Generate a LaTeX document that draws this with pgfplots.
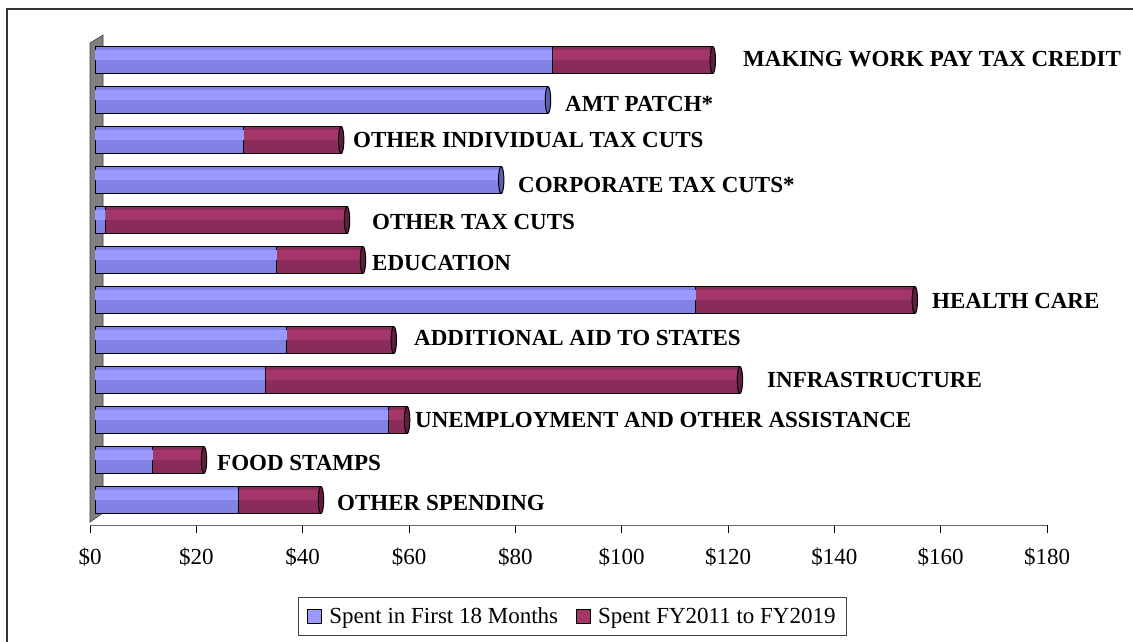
\documentclass[border=0pt]{standalone}
\usepackage{fontspec}
\setmainfont{Liberation Serif}
\usepackage{pgfplots}
\pgfplotsset{compat=1.18}
\usepackage{pgfplotstable}

\definecolor{blueTop}{RGB}{153,153,255}
\definecolor{blueBot}{RGB}{130,130,228}
\definecolor{blueCap}{RGB}{92,92,176}
\definecolor{plumTop}{RGB}{164,54,104}
\definecolor{plumBot}{RGB}{137,44,91}
\definecolor{plumCap}{RGB}{98,28,64}

% y = 0 is the bottom bar (OTHER SPENDING), 11 the top one
\pgfplotstableread{
y first later
0 26.9 15.6
1 10.9 9.6
2 55.2 3.5
3 32.0 89.3
4 36.1 20.1
5 113.0 41.2
6 34.2 16.2
7 2.0 45.4
8 76.4 0
9 28.0 18.3
10 85.2 0
11 86.0 30.2
}\spending

\newcommand\labfont{\fontsize{23}{27}\selectfont\bfseries}

\pgfplotsset{
  barbase/.style={forget plot, xbar, bar width=27pt, bar shift=0pt, xshift=5pt,
    draw=black, line width=1pt},
  barshine/.style={forget plot, xbar, bar width=10pt, bar shift=5pt, xshift=5pt,
    draw=none},
  barcap/.style={forget plot, only marks, mark=*, mark size=13.5pt, xshift=5pt,
    mark options={fill=#1, draw=black, line width=1pt, xscale=0.2}},
}

\begin{document}
\begin{tikzpicture}
% page size and outer frame
\useasboundingbox (0pt,0pt) rectangle (1133pt,-641pt);
\draw[line width=1.5pt, black!80] (7pt,-645pt) -- (7pt,-9pt) -- (1140pt,-9pt);

% grey back wall
\filldraw[fill=black!50, draw=black!75, line width=0.6pt]
  (90pt,-522pt) -- (90pt,-43pt) -- (103pt,-35pt) -- (103pt,-513pt) -- cycle;

\begin{axis}[
    at={(90pt,-525pt)}, anchor=south west,
    scale only axis,
    width=957pt, height=490pt,
    xmin=0, xmax=180,
    ymin=-0.625, ymax=11.625,
    axis x line*=bottom,
    axis y line=none,
    axis line style={draw=black!60, line width=1pt},
    xtick={0,20,...,180},
    xticklabels={\$0,\$20,\$40,\$60,\$80,\$100,\$120,\$140,\$160,\$180},
    x tick label style={font=\fontsize{23}{27}\selectfont, yshift=-11pt},
    tick align=outside,
    major tick length=8pt,
    tick style={black, line width=0.8pt},
    ytick=\empty,
    clip=false,
    unbounded coords=discard,
    legend image code/.code={\draw[#1] (0pt,-7pt) rectangle (14pt,7pt);},
    legend columns=2,
    legend style={at={(0.5042,-0.147)}, anchor=north,
      draw=black!75, line width=1pt, fill=white,
      font=\fontsize{23}{27}\selectfont,
      inner xsep=9pt, inner ysep=8pt,
      /tikz/every odd column/.append style={column sep=5pt},
      /tikz/every even column/.append style={column sep=16pt}},
  ]
  % total length, plum part
  \addplot[barbase, fill=plumBot]
    table[x expr=\thisrow{first}+\thisrow{later}, y=y] {\spending};
  \addplot[barshine, fill=plumTop]
    table[x expr=\thisrow{first}+\thisrow{later}, y=y] {\spending};
  % first 18 months, blue part
  \addplot[barbase, fill=blueBot]
    table[x=first, y=y] {\spending};
  \addplot[barshine, fill=blueTop]
    table[x=first, y=y] {\spending};
  % cylinder end caps
  \addplot[barcap=plumCap]
    table[x expr={ifthenelse(\thisrow{later}>0, \thisrow{first}+\thisrow{later}, nan)}, y=y] {\spending};
  \addplot[barcap=blueCap]
    table[x expr={ifthenelse(\thisrow{later}>0, nan, \thisrow{first})}, y=y] {\spending};

  \addlegendimage{fill=blueTop, draw=black, line width=1pt}
  \addlegendentry{Spent in First 18 Months}
  \addlegendimage{fill=plumTop, draw=black, line width=1pt}
  \addlegendentry{Spent FY2011 to FY2019}
\end{axis}

% category labels beside the bars
\begin{scope}[every node/.style={anchor=west, inner sep=0pt, font=\labfont}]
\node at (743pt,-59.5pt) {MAKING WORK PAY TAX CREDIT};
\node at (565pt,-104pt) {AMT PATCH*};
\node at (353pt,-140pt) {OTHER INDIVIDUAL TAX CUTS};
\node at (518pt,-185pt) {CORPORATE TAX CUTS*};
\node at (372pt,-222pt) {OTHER TAX CUTS};
\node at (372pt,-263pt) {EDUCATION};
\node at (932pt,-301pt) {HEALTH CARE};
\node at (414pt,-338pt) {ADDITIONAL AID TO STATES};
\node at (767pt,-380pt) {INFRASTRUCTURE};
\node at (415pt,-420pt) {UNEMPLOYMENT AND OTHER ASSISTANCE};
\node at (217pt,-463pt) {FOOD STAMPS};
\node at (337pt,-503pt) {OTHER SPENDING};
\end{scope}
\end{tikzpicture}
\end{document}
